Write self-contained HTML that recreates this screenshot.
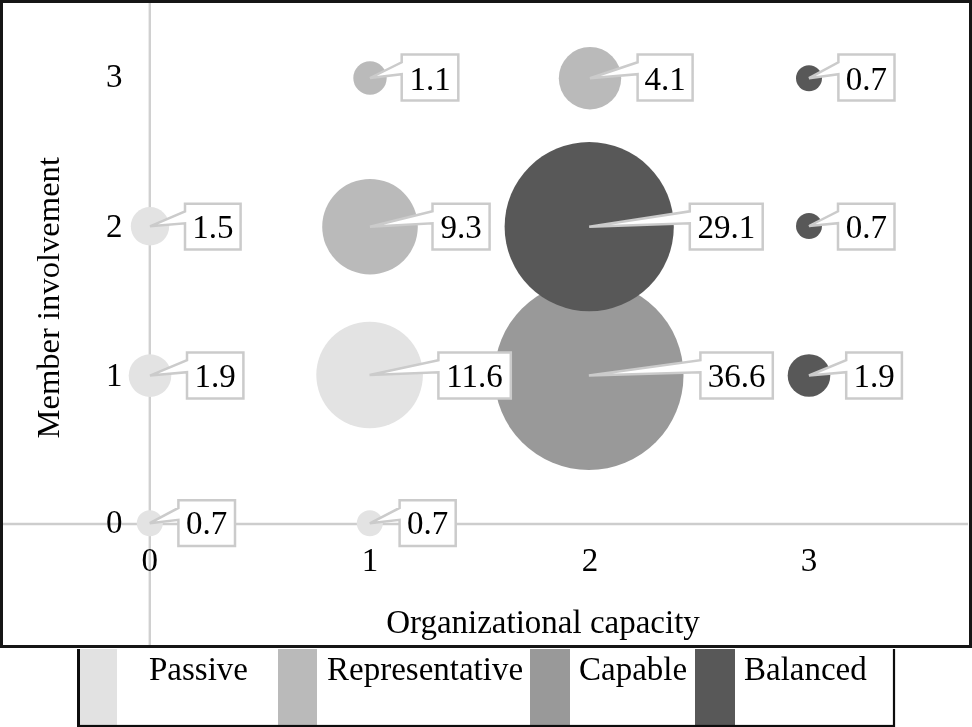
<!DOCTYPE html>
<html><head><meta charset="utf-8"><style>
html,body{margin:0;padding:0;background:#fff;}
body{width:972px;height:727px;overflow:hidden;}
svg{display:block;}
text{font-family:'Liberation Serif', serif;fill:#000;}
</style></head><body>
<svg width="972" height="727" viewBox="0 0 972 727">
<defs><filter id="bl" x="-5%" y="-5%" width="110%" height="110%"><feGaussianBlur stdDeviation="0.42"/></filter></defs>
<rect x="0" y="0" width="972" height="727" fill="#fff"/>
<g filter="url(#bl)">
<rect x="-20" y="-20" width="1012" height="767" fill="#fff"/>
<line x1="149.8" y1="3" x2="149.8" y2="645" stroke="#d0d0d0" stroke-width="2.4"/>
<line x1="3" y1="524.0" x2="968" y2="524.0" stroke="#cdcdcd" stroke-width="2.4"/>
<circle cx="150.0" cy="226.3" r="19.2" fill="#e3e3e3"/>
<circle cx="150.0" cy="375.6" r="21.3" fill="#e3e3e3"/>
<circle cx="369.6" cy="375.0" r="53.3" fill="#e3e3e3"/>
<circle cx="149.8" cy="523.2" r="13.0" fill="#e3e3e3"/>
<circle cx="369.8" cy="523.3" r="13.0" fill="#e3e3e3"/>
<circle cx="370.0" cy="78.0" r="16.7" fill="#bababa"/>
<circle cx="590.0" cy="78.2" r="31.2" fill="#bababa"/>
<circle cx="370.0" cy="226.7" r="47.8" fill="#bababa"/>
<circle cx="588.9" cy="375.4" r="94.6" fill="#999999"/>
<circle cx="809.0" cy="78.2" r="13.0" fill="#595959"/>
<circle cx="589.2" cy="226.7" r="84.6" fill="#595959"/>
<circle cx="809.0" cy="226.0" r="13.0" fill="#595959"/>
<circle cx="809.0" cy="375.5" r="21.3" fill="#595959"/>
<path d="M401.70,54.60 L458.30,54.60 L458.30,100.50 L401.70,100.50 L401.70,74.22 L370.00,78.00 L401.70,62.25 Z" fill="#fff" stroke="#cbcbcb" stroke-width="2.5"/>
<text x="430.00" y="90.1" font-size="33" text-anchor="middle">1.1</text>
<path d="M637.60,54.60 L692.60,54.60 L692.60,100.50 L637.60,100.50 L637.60,74.22 L590.00,78.20 L637.60,62.25 Z" fill="#fff" stroke="#cbcbcb" stroke-width="2.5"/>
<text x="665.10" y="90.1" font-size="33" text-anchor="middle">4.1</text>
<path d="M838.40,54.60 L894.50,54.60 L894.50,100.50 L838.40,100.50 L838.40,74.22 L809.00,78.20 L838.40,62.25 Z" fill="#fff" stroke="#cbcbcb" stroke-width="2.5"/>
<text x="866.45" y="90.1" font-size="33" text-anchor="middle">0.7</text>
<path d="M185.00,203.70 L240.60,203.70 L240.60,249.40 L185.00,249.40 L185.00,223.24 L150.00,226.30 L185.00,211.32 Z" fill="#fff" stroke="#cbcbcb" stroke-width="2.5"/>
<text x="212.80" y="237.9" font-size="33" text-anchor="middle">1.5</text>
<path d="M432.50,203.70 L489.60,203.70 L489.60,249.40 L432.50,249.40 L432.50,223.24 L370.00,226.70 L432.50,211.32 Z" fill="#fff" stroke="#cbcbcb" stroke-width="2.5"/>
<text x="461.05" y="237.9" font-size="33" text-anchor="middle">9.3</text>
<path d="M689.80,203.70 L762.70,203.70 L762.70,249.40 L689.80,249.40 L689.80,223.24 L589.20,226.70 L689.80,211.32 Z" fill="#fff" stroke="#cbcbcb" stroke-width="2.5"/>
<text x="726.25" y="237.9" font-size="33" text-anchor="middle">29.1</text>
<path d="M838.00,203.70 L894.50,203.70 L894.50,249.40 L838.00,249.40 L838.00,223.24 L809.00,226.00 L838.00,211.32 Z" fill="#fff" stroke="#cbcbcb" stroke-width="2.5"/>
<text x="866.25" y="237.9" font-size="33" text-anchor="middle">0.7</text>
<path d="M187.00,352.60 L243.40,352.60 L243.40,398.40 L187.00,398.40 L187.00,372.18 L150.00,375.60 L187.00,360.23 Z" fill="#fff" stroke="#cbcbcb" stroke-width="2.5"/>
<text x="215.20" y="387.0" font-size="33" text-anchor="middle">1.9</text>
<path d="M438.40,352.60 L510.80,352.60 L510.80,398.40 L438.40,398.40 L438.40,372.18 L369.60,375.00 L438.40,360.23 Z" fill="#fff" stroke="#cbcbcb" stroke-width="2.5"/>
<text x="474.60" y="387.0" font-size="33" text-anchor="middle">11.6</text>
<path d="M700.40,352.60 L772.80,352.60 L772.80,398.40 L700.40,398.40 L700.40,372.18 L588.90,375.40 L700.40,360.23 Z" fill="#fff" stroke="#cbcbcb" stroke-width="2.5"/>
<text x="736.60" y="387.0" font-size="33" text-anchor="middle">36.6</text>
<path d="M846.20,352.60 L901.90,352.60 L901.90,398.40 L846.20,398.40 L846.20,372.18 L809.00,375.50 L846.20,360.23 Z" fill="#fff" stroke="#cbcbcb" stroke-width="2.5"/>
<text x="874.05" y="387.0" font-size="33" text-anchor="middle">1.9</text>
<path d="M178.40,500.25 L235.00,500.25 L235.00,546.00 L178.40,546.00 L178.40,519.81 L149.80,523.20 L178.40,507.88 Z" fill="#fff" stroke="#cbcbcb" stroke-width="2.5"/>
<text x="206.70" y="534.3" font-size="33" text-anchor="middle">0.7</text>
<path d="M399.60,500.25 L455.70,500.25 L455.70,546.00 L399.60,546.00 L399.60,519.81 L369.80,523.30 L399.60,507.88 Z" fill="#fff" stroke="#cbcbcb" stroke-width="2.5"/>
<text x="427.65" y="534.3" font-size="33" text-anchor="middle">0.7</text>
<text x="149.7" y="570.8" font-size="33" text-anchor="middle">0</text>
<text x="370.0" y="570.8" font-size="33" text-anchor="middle">1</text>
<text x="590.0" y="570.8" font-size="33" text-anchor="middle">2</text>
<text x="809.0" y="570.8" font-size="33" text-anchor="middle">3</text>
<text x="114.2" y="532.8" font-size="33" text-anchor="middle">0</text>
<text x="114.2" y="385.8" font-size="33" text-anchor="middle">1</text>
<text x="114.2" y="236.9" font-size="33" text-anchor="middle">2</text>
<text x="114.2" y="87.3" font-size="33" text-anchor="middle">3</text>
<text x="543" y="632.9" font-size="33" text-anchor="middle">Organizational capacity</text>
<text transform="translate(58.5,297.75) rotate(-90)" x="0" y="0" font-size="32.6" text-anchor="middle">Member involvement</text>
<path d="M-10,-10 H982 V648 H-10 Z M3,3 V645 H969 V3 Z" fill="#141414" fill-rule="evenodd"/>
<rect x="80" y="649" width="37" height="76" fill="#e2e2e2"/>
<rect x="278" y="649" width="39" height="76" fill="#bababa"/>
<rect x="530" y="649" width="40" height="76" fill="#999999"/>
<rect x="695" y="649" width="40" height="76" fill="#595959"/>
<text x="149" y="679.9" font-size="33">Passive</text>
<text x="327" y="679.9" font-size="33">Representative</text>
<text x="579" y="679.9" font-size="33">Capable</text>
<text x="744" y="679.9" font-size="33">Balanced</text>
<rect x="77" y="649" width="3" height="90" fill="#111"/><rect x="77" y="724.9" width="818" height="12" fill="#111"/><rect x="892.9" y="649" width="2.2" height="90" fill="#111"/>
</g>
</svg>
</body></html>
